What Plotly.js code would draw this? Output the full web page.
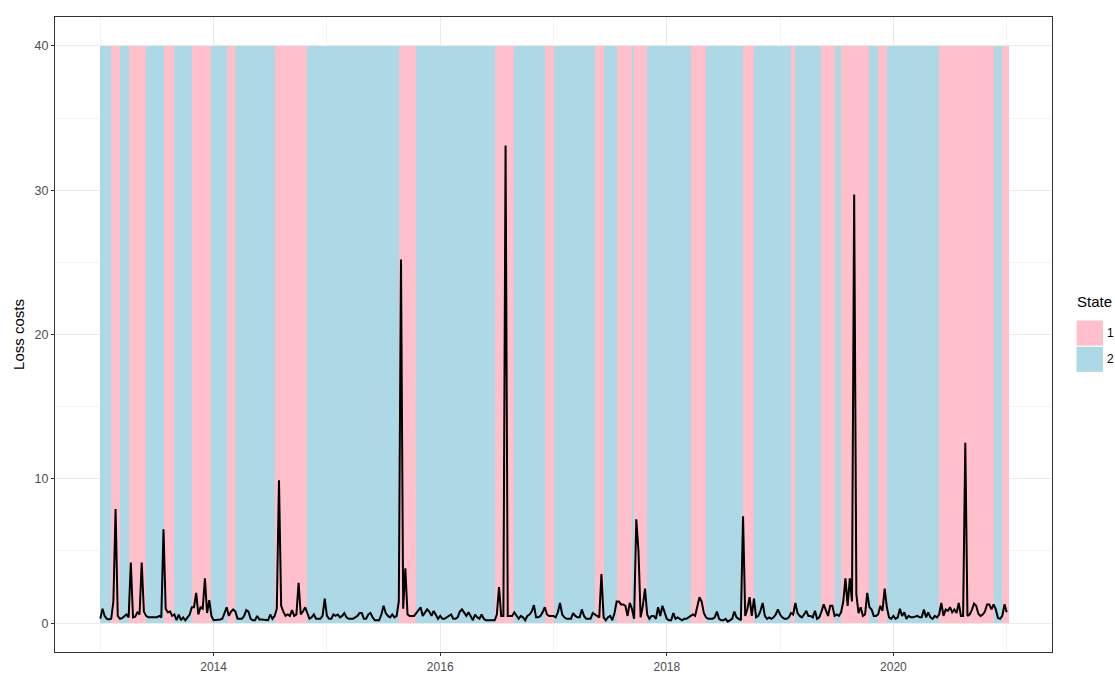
<!DOCTYPE html>
<html>
<head>
<meta charset="utf-8">
<script src="https://cdn.plot.ly/plotly-3.0.1.min.js"></script>
<style>html,body{margin:0;padding:0;background:#ffffff;}</style>
</head>
<body>
<div id="chart" style="width:1115px;height:673px;"></div>
<script>
// ---------- data ----------
const startYear = 2013;
const weeksPerYear = 52;

// weekly loss costs
const lossCosts = [
  0.3, 1.0, 0.5, 0.3, 0.25, 0.3, 1.5, 7.9, 0.5, 0.3,
  0.35, 0.5, 0.6, 0.4, 4.2, 0.4, 0.45, 0.75, 0.6, 4.2,
  0.8, 0.5, 0.4, 0.4, 0.4, 0.4, 0.4, 0.5, 0.4, 6.5,
  1.0, 0.75, 0.8, 0.5, 0.6, 0.2, 0.6, 0.2, 0.4, 0.2,
  0.4, 0.6, 1.1, 1.1, 2.1, 0.6, 1.1, 1.0, 3.1, 0.7,
  1.6, 0.5, 0.2, 0.2, 0.2, 0.25, 0.3, 0.7, 1.1, 0.5,
  0.8, 0.95, 0.8, 0.3, 0.3, 0.3, 0.5, 0.9, 0.8, 0.3,
  0.2, 0.2, 0.5, 0.25, 0.25, 0.25, 0.2, 0.2, 0.6, 0.3,
  0.5, 1.0, 9.9, 1.2, 0.8, 0.5, 0.6, 0.5, 0.9, 0.5,
  0.6, 2.8, 0.6, 0.8, 1.1, 0.7, 0.3, 0.4, 0.6, 0.3,
  0.3, 0.3, 0.5, 1.7, 0.5, 0.3, 0.3, 0.6, 0.5, 0.6,
  0.4, 0.5, 0.7, 0.4, 0.3, 0.3, 0.3, 0.4, 0.5, 0.7,
  0.7, 0.3, 0.3, 0.6, 0.7, 0.4, 0.2, 0.2, 0.2, 0.6,
  1.2, 0.7, 0.5, 0.4, 0.6, 0.4, 0.5, 1.5, 25.2, 1.0,
  3.8, 0.6, 0.5, 0.5, 0.5, 0.7, 0.9, 1.1, 0.5, 0.7,
  0.95, 0.8, 0.5, 0.85, 0.6, 0.3, 0.5, 0.3, 0.3, 0.4,
  0.5, 0.6, 0.3, 0.3, 0.4, 0.8, 0.95, 0.7, 0.5, 0.75,
  0.5, 0.2, 0.6, 0.4, 0.3, 0.6, 0.3, 0.2, 0.2, 0.2,
  0.2, 0.2, 0.6, 2.5, 0.5, 0.5, 33.1, 0.5, 0.5, 0.5,
  0.75, 0.5, 0.3, 0.5, 0.4, 0.2, 0.5, 0.6, 0.8, 1.25,
  0.4, 0.4, 0.5, 0.75, 1.1, 0.6, 0.5, 0.5, 0.5, 0.4,
  0.75, 1.4, 0.6, 0.4, 0.3, 0.3, 0.3, 0.7, 0.5, 0.4,
  0.4, 0.95, 0.5, 0.3, 0.3, 0.3, 0.7, 0.6, 0.5, 0.4,
  3.4, 0.4, 0.2, 0.4, 0.5, 0.2, 0.7, 1.5, 1.5, 1.3,
  1.3, 1.2, 0.5, 1.4, 1.0, 0.3, 7.2, 5.0, 0.4, 1.2,
  2.4, 0.6, 0.3, 0.5, 0.5, 0.3, 1.1, 0.5, 1.2, 0.7,
  0.3, 0.2, 0.2, 0.7, 0.3, 0.4, 0.3, 0.2, 0.3, 0.3,
  0.4, 0.5, 0.6, 0.5, 1.1, 1.8, 1.5, 0.7, 0.4, 0.3,
  0.3, 0.3, 0.4, 0.8, 0.3, 0.2, 0.2, 0.3, 0.1, 0.2,
  0.3, 0.8, 0.4, 0.3, 0.2, 7.4, 0.5, 1.0, 1.8, 0.5,
  1.7, 0.4, 0.5, 0.85, 1.4, 0.5, 0.3, 0.4, 0.3, 0.4,
  0.6, 0.95, 0.6, 0.4, 0.3, 0.3, 0.4, 0.7, 0.6, 1.4,
  0.7, 0.5, 0.4, 0.6, 0.85, 0.5, 0.5, 0.4, 0.85, 0.3,
  0.4, 0.8, 1.3, 0.9, 0.5, 1.2, 1.2, 0.5, 0.6, 0.5,
  0.75, 1.5, 3.1, 1.2, 3.1, 1.5, 29.7, 2.0, 0.7, 1.1,
  0.5, 0.6, 2.1, 1.1, 0.95, 0.5, 0.5, 0.6, 1.2, 0.85,
  2.4, 1.1, 0.4, 0.3, 0.5, 0.3, 0.4, 1.0, 0.5, 0.75,
  0.3, 0.5, 0.4, 0.4, 0.45, 0.5, 0.4, 0.4, 0.95, 0.4,
  0.75, 0.4, 0.3, 0.5, 0.4, 0.6, 1.4, 0.5, 0.95, 0.85,
  1.1, 0.75, 0.95, 0.7, 1.4, 0.5, 0.5, 12.5, 0.5, 0.6,
  0.9, 1.35, 1.2, 0.65, 0.5, 0.6, 0.8, 1.3, 1.3, 0.95,
  1.3, 0.95, 0.35, 0.3, 0.5, 1.3, 0.75
];

// state regimes: week index where each run starts, and its state
const stateStarts = [0, 5, 9, 13, 21, 29, 34, 42, 51, 58, 62, 80, 95, 137, 145, 181, 190, 204, 208, 227,
                     231, 237, 244, 245, 251, 271, 278, 295, 300, 317, 319, 331, 337, 340, 353, 357, 361, 385, 410, 414];
const stateValues = [2, 1, 2, 1, 2, 1, 2, 1, 2, 1, 2, 1, 2, 1, 2, 1, 2, 1, 2, 1,
                     2, 1, 2, 1, 2, 1, 2, 1, 2, 1, 2, 1, 2, 1, 2, 1, 2, 1, 2, 1];
const stateEnd = 417;
const stateTop = 40;
const stateNames = [1, 2];
const stateColors = ['pink', 'lightblue'];

const xTickYears = [2014, 2016, 2018, 2020];
const xMinorYears = [2013, 2015, 2017, 2019, 2021];
const yTicks = [0, 10, 20, 30, 40];
const yMinor = [5, 15, 25, 35];

// ---------- traces ----------
const toYear = i => startYear + i / weeksPerYear;
const xs = lossCosts.map((_, i) => toYear(i));

const traces = [];
stateNames.forEach((s, k) => {
  const bx = [], bw = [], by = [];
  stateStarts.forEach((st, j) => {
    if (stateValues[j] !== s) return;
    const en = j + 1 < stateStarts.length ? stateStarts[j + 1] : stateEnd;
    bx.push(toYear(st));
    bw.push((en - st) / weeksPerYear);
    by.push(stateTop);
  });
  traces.push({
    type: 'bar', x: bx, y: by, width: bw, offset: 0, base: 0,
    marker: {color: stateColors[k], line: {width: 0}},
    name: String(s), showlegend: false, hoverinfo: 'skip'
  });
});
traces.push({
  type: 'scatter', mode: 'lines', x: xs, y: lossCosts,
  line: {color: '#000000', width: 2}, showlegend: false, name: 'Loss costs'
});

// ---------- layout ----------
const L = 55, R = 1052, T = 17, B = 652, W = 1115, H = 673;
const px = v => (v - L) / (R - L);
const py = v => (B - v) / (B - T);
const font = 'Liberation Sans, Arial, Helvetica, sans-serif';

const shapes = [];
const annotations = [];
annotations.push({xref: 'paper', yref: 'paper', x: px(1075), y: py(301), xanchor: 'left', yanchor: 'middle',
  text: 'State', showarrow: false, font: {family: font, size: 15, color: '#000'}});
stateNames.forEach((s, k) => {
  const top = 320 + k * 26.3;
  shapes.push({type: 'rect', xref: 'paper', yref: 'paper', x0: px(1076.5), x1: px(1103), y0: py(top + 25.6), y1: py(top + 0.5),
    fillcolor: stateColors[k], line: {width: 0}, layer: 'above'});
  annotations.push({xref: 'paper', yref: 'paper', x: px(1105), y: py(top + 13), xanchor: 'left', yanchor: 'middle',
    text: String(s), showarrow: false, font: {family: font, size: 12, color: '#000'}});
});

const layout = {
  width: W, height: H,
  margin: {l: L, r: W - R, t: T, b: H - B, pad: 0},
  paper_bgcolor: '#ffffff', plot_bgcolor: '#ffffff',
  font: {family: font, color: '#4D4D4D'},
  barmode: 'overlay', bargap: 0,
  showlegend: false,
  xaxis: {
    range: [2012.6, 2021.4], tickmode: 'array', tickvals: xTickYears, ticktext: xTickYears.map(String),
    showgrid: true, gridcolor: '#EBEBEB', gridwidth: 1.1,
    minor: {tickmode: 'array', tickvals: xMinorYears, showgrid: true, gridcolor: '#EBEBEB', gridwidth: 0.55, ticks: ''},
    ticks: 'outside', ticklen: 3, tickwidth: 1, tickcolor: '#333333',
    tickfont: {family: font, size: 12, color: '#4D4D4D'},
    showline: true, linecolor: '#333333', linewidth: 1.1, mirror: true,
    zeroline: false, automargin: false, fixedrange: true
  },
  yaxis: {
    range: [-2, 42], tickmode: 'array', tickvals: yTicks, ticktext: yTicks.map(String),
    showgrid: true, gridcolor: '#EBEBEB', gridwidth: 1.1,
    minor: {tickmode: 'array', tickvals: yMinor, showgrid: true, gridcolor: '#EBEBEB', gridwidth: 0.55, ticks: ''},
    ticks: 'outside', ticklen: 3, tickwidth: 1, tickcolor: '#333333',
    tickfont: {family: font, size: 12.5, color: '#4D4D4D'},
    showline: true, linecolor: '#333333', linewidth: 1.1, mirror: true,
    zeroline: false, automargin: false, fixedrange: true,
    title: {text: 'Loss costs', font: {family: font, size: 15, color: '#000'}, standoff: 6}
  },
  shapes: shapes,
  annotations: annotations
};

Plotly.newPlot('chart', traces, layout, {displayModeBar: false, staticPlot: true});
</script>
</body>
</html>
